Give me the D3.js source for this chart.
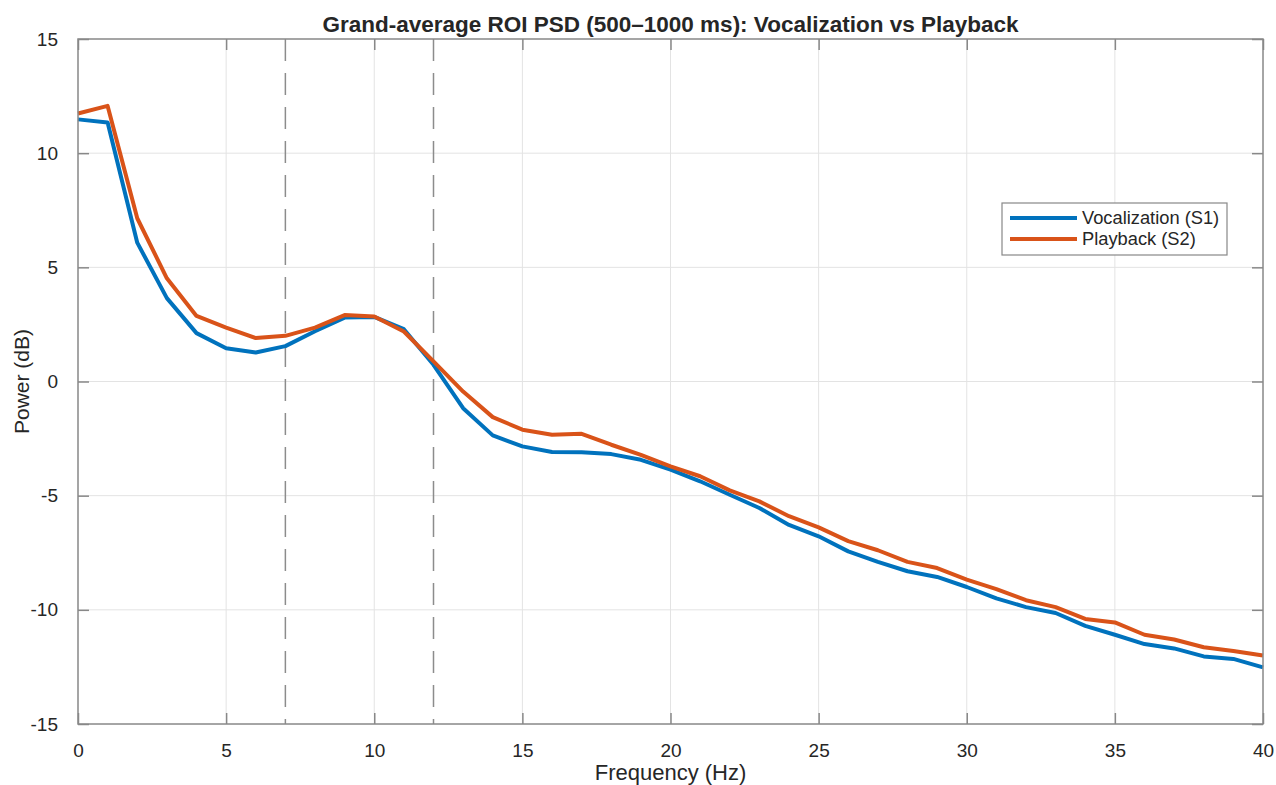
<!DOCTYPE html>
<html>
<head>
<meta charset="utf-8">
<script src="https://cdn.jsdelivr.net/npm/d3@7"></script>
<style>
  body { margin: 0; background: #fff; }
  text { font-family: "Liberation Sans", Arial, Helvetica, sans-serif; fill: #262626; }
</style>
</head>
<body>
<script>
var freqs = d3.range(0, 41);
var vocalization = [11.48, 11.34, 6.08, 3.65, 2.12, 1.46, 1.27, 1.55, 2.2, 2.8, 2.83,
  2.29, 0.73, -1.17, -2.36, -2.84, -3.09, -3.1, -3.18, -3.43, -3.86,
  -4.37, -4.96, -5.54, -6.28, -6.78, -7.44, -7.9, -8.31, -8.56, -9.0,
  -9.5, -9.88, -10.14, -10.7, -11.09, -11.5, -11.69, -12.04, -12.15, -12.52];
var playback = [11.74, 12.07, 7.15, 4.52, 2.87, 2.36, 1.9, 2.0, 2.36, 2.91, 2.85,
  2.19, 0.88, -0.44, -1.56, -2.11, -2.33, -2.29, -2.77, -3.21, -3.72,
  -4.15, -4.77, -5.25, -5.9, -6.39, -6.99, -7.39, -7.9, -8.17, -8.68,
  -9.09, -9.58, -9.88, -10.4, -10.55, -11.09, -11.3, -11.64, -11.8, -12.0];
var xTicks = [0, 5, 10, 15, 20, 25, 30, 35, 40];
var yTicks = [-15, -10, -5, 0, 5, 10, 15];
var bandEdges = [7, 12];
var seriesNames = ["Vocalization (S1)", "Playback (S2)"];
var seriesColors = ["#0072BD", "#D95319"];

var W = 1276, H = 785;
var pL = 78, pR = 1263, pT = 39, pB = 724;

var svg = d3.select("body").append("svg")
  .attr("width", W)
  .attr("height", H);

var x = d3.scaleLinear().domain([0, 40]).range([pL, pR]);
var y = d3.scaleLinear().domain([-15, 15]).range([pB, pT]);

// grid
svg.append("g").selectAll("line").data(xTicks.slice(1, -1)).enter().append("line")
  .attr("x1", function(d) { return x(d); }).attr("x2", function(d) { return x(d); })
  .attr("y1", pT).attr("y2", pB)
  .attr("stroke", "#e3e3e3").attr("stroke-width", 1);
svg.append("g").selectAll("line").data(yTicks.slice(1, -1)).enter().append("line")
  .attr("y1", function(d) { return y(d); }).attr("y2", function(d) { return y(d); })
  .attr("x1", pL).attr("x2", pR)
  .attr("stroke", "#e3e3e3").attr("stroke-width", 1);

// band edges
svg.append("g").selectAll("line").data(bandEdges).enter().append("line")
  .attr("x1", function(d) { return x(d); }).attr("x2", function(d) { return x(d); })
  .attr("y1", pT).attr("y2", pB)
  .attr("stroke", "#8c8c8c").attr("stroke-width", 1.5)
  .attr("stroke-dasharray", "22,12");

// lines
var line = d3.line()
  .x(function(d, i) { return x(freqs[i]); })
  .y(function(d) { return y(d); });

[vocalization, playback].forEach(function(s, i) {
  svg.append("path")
    .datum(s)
    .attr("d", line)
    .attr("fill", "none")
    .attr("stroke", seriesColors[i])
    .attr("stroke-width", 4)
    .attr("stroke-linejoin", "round");
});

// axes box and ticks
var axisColor = "#888";
svg.append("rect")
  .attr("x", pL).attr("y", pT)
  .attr("width", pR - pL).attr("height", pB - pT)
  .attr("fill", "none").attr("stroke", axisColor).attr("stroke-width", 1.5);

var tl = 11;
var plain = function(d) { return String(d); };
function styleAxis(g) {
  g.select(".domain").remove();
  g.selectAll("line").attr("stroke", axisColor).attr("stroke-width", 1.5);
  g.selectAll("text").style("font-size", "19px").attr("fill", "#262626")
    .style("font-family", "Liberation Sans, Arial, sans-serif");
}
svg.append("g").attr("transform", "translate(0," + pB + ")")
  .call(d3.axisBottom(x).tickValues(xTicks).tickFormat(plain).tickSizeInner(-tl).tickSizeOuter(0).tickPadding(tl + 9))
  .call(styleAxis);
svg.append("g").attr("transform", "translate(0," + pT + ")")
  .call(d3.axisTop(x).tickValues(xTicks).tickSizeInner(-tl).tickSizeOuter(0).tickFormat(""))
  .call(styleAxis);
svg.append("g").attr("transform", "translate(" + pL + ",0)")
  .call(d3.axisLeft(y).tickValues(yTicks).tickFormat(plain).tickSizeInner(-tl).tickSizeOuter(0).tickPadding(tl + 9))
  .call(styleAxis);
svg.append("g").attr("transform", "translate(" + pR + ",0)")
  .call(d3.axisRight(y).tickValues(yTicks).tickSizeInner(-tl).tickSizeOuter(0).tickFormat(""))
  .call(styleAxis);

// labels
svg.append("text")
  .attr("x", (pL + pR) / 2).attr("y", 32)
  .attr("text-anchor", "middle")
  .style("font-size", "22.5px").style("font-weight", "bold")
  .text("Grand-average ROI PSD (500\u20131000 ms): Vocalization vs Playback");

svg.append("text")
  .attr("x", (pL + pR) / 2).attr("y", 780)
  .attr("text-anchor", "middle")
  .style("font-size", "22px")
  .text("Frequency (Hz)");

svg.append("text")
  .attr("transform", "translate(29," + (pT + pB) / 2 + ") rotate(-90)")
  .attr("text-anchor", "middle")
  .style("font-size", "21px")
  .text("Power (dB)");

// legend
var lg = svg.append("g").attr("transform", "translate(1002,203)");
lg.append("rect")
  .attr("width", 225).attr("height", 52)
  .attr("fill", "#fff").attr("stroke", "#888").attr("stroke-width", 1.2);
seriesNames.forEach(function(n, i) {
  var ly = 15 + i * 21;
  lg.append("line")
    .attr("x1", 8).attr("x2", 75).attr("y1", ly).attr("y2", ly)
    .attr("stroke", seriesColors[i]).attr("stroke-width", 4);
  lg.append("text")
    .attr("x", 80).attr("y", ly + 6)
    .style("font-size", "18.3px")
    .text(n);
});
</script>
</body>
</html>
